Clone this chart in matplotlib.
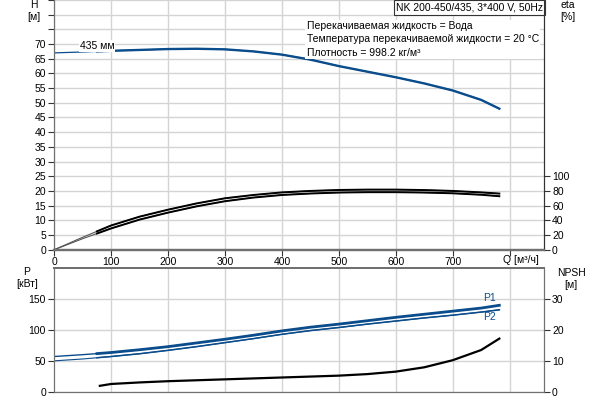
import numpy as np
import matplotlib.pyplot as plt
from matplotlib.transforms import blended_transform_factory

plt.rcParams['font.family'] = ['Liberation Sans', 'DejaVu Sans']
plt.rcParams['font.size'] = 7.5

# Q axis, m3/h
q = [0, 25, 50, 75, 100, 150, 200, 250, 300, 350, 400, 450, 500, 550, 600, 650, 700, 750, 782]

# head, m
head = [67.0, 67.15, 67.3, 67.5, 67.7, 68.0, 68.3, 68.4, 68.2, 67.5, 66.4, 64.7, 62.5,
        60.6, 58.7, 56.6, 54.2, 51.0, 48.0]

# efficiencies, %
eta1 = [0, 8.5, 17, 25, 33, 45, 54.5, 63, 70, 74.5, 78, 80, 81.3, 81.8, 81.8, 81.2, 80, 78, 76.4]
eta2 = [0, 7.5, 15, 22, 29, 41, 50.5, 59, 66, 71, 74.5, 76.5, 77.8, 78.3, 78.3, 77.8, 76.8, 74.8, 72.8]

# power, kW
p1 = [57, 58.5, 60, 61.7, 63.5, 68, 73, 79, 85, 91.5, 98.5, 104.5, 109.5, 115, 120.5, 125.5, 130.5, 135.5, 140]
p2 = [50, 51.5, 53, 55, 57, 61.5, 67, 73, 79.5, 86, 93, 99, 104, 109.5, 114.5, 119.5, 124, 129, 132.7]

# NPSH, m
q_npsh = [80, 100, 150, 200, 250, 300, 350, 400, 450, 500, 550, 600, 650, 700, 750, 782]
npsh = [1.9, 2.5, 3.0, 3.4, 3.7, 4.0, 4.3, 4.6, 4.9, 5.2, 5.7, 6.5, 7.9, 10.2, 13.5, 17.2]

q = np.array(q)
k = q >= 75  # operating range drawn thick

blue = '#0b4d8c'
grid_c = '#d4d4d4'
spine_c = '#707070'

fig = plt.figure(figsize=(6, 4), dpi=100)
ax = fig.add_axes([0.0905, 0.3758, 0.8157, 0.6242])
ax2 = ax.twinx()
bx = fig.add_axes([0.0905, 0.0208, 0.8157, 0.3085])
bx2 = bx.twinx()

xmax = 860

# ---- top: H and eta
ax.set_xlim(0, xmax)
ax.set_ylim(0, 85)
ax.set_xticks(range(0, 900, 100))
ax.set_xticklabels([str(v) for v in range(0, 800, 100)] + [''])
ax.set_yticks(range(0, 90, 5))
ax.set_yticklabels([str(v) for v in range(0, 75, 5)] + ['', '', ''])
ax.grid(True, color=grid_c, lw=1.0)
ax.set_axisbelow(True)

ax.plot(q, head, color=blue, lw=0.9)
ax.plot(q[k], np.array(head)[k], color=blue, lw=1.7)

ax2.set_ylim(0, 340)
ax2.set_yticks(range(0, 120, 20))
ax2.plot(q, eta1, color='#555555', lw=0.8)
ax2.plot(q, eta2, color='#555555', lw=0.8)
ax2.plot(q[k], np.array(eta1)[k], color='black', lw=1.4)
ax2.plot(q[k], np.array(eta2)[k], color='black', lw=1.4)

for a in (ax, ax2):
    a.tick_params(length=4, width=0.8, color='#333333', pad=2, labelsize=7.5)
    a.tick_params(axis='x', pad=1)
    a.spines['top'].set_visible(False)
    a.spines['left'].set_color(spine_c)
    a.spines['right'].set_color('#333333')
    a.spines['bottom'].set_color(spine_c)
    a.spines['bottom'].set_linewidth(1.6)

ax.text(75, 69.4, '435 мм', ha='center', va='center', fontsize=7.5,
        bbox=dict(facecolor='white', edgecolor='none', pad=0.5))

info = ('Перекачиваемая жидкость = Вода\n'
        'Температура перекачиваемой жидкости = 20 °C\n'
        'Плотность = 998.2 кг/м³')
ax.text(0.516, 0.916, info, transform=ax.transAxes, ha='left', va='top',
        fontsize=7.5, linespacing=1.42,
        bbox=dict(facecolor='white', edgecolor='none', pad=1))
ax.text(0.998, 0.99, 'NK 200-450/435, 3*400 V, 50Hz', transform=ax.transAxes,
        ha='right', va='top', fontsize=7.5,
        bbox=dict(facecolor='white', edgecolor='#333333', lw=0.8, pad=1.5))

tr = blended_transform_factory(ax.transData, ax.transAxes)
ax.text(788, -0.021, 'Q [м³/ч]', transform=tr, ha='left', va='top', fontsize=7.5)

fig.text(34 / 600, 1 - 11 / 400, 'H\n[м]', ha='center', va='center', fontsize=7.5, linespacing=1.3)
fig.text(568 / 600, 1 - 11 / 400, 'eta\n[%]', ha='center', va='center', fontsize=7.5, linespacing=1.3)

# ---- bottom: P and NPSH
bx.set_xlim(0, xmax)
bx.set_ylim(0, 200)
bx.set_xticks(range(100, 900, 100))
bx.set_xticklabels([])
bx.set_yticks([0, 50, 100, 150])
bx.grid(True, color=grid_c, lw=1.0)
bx.set_axisbelow(True)

bx.plot(q, p1, color=blue, lw=1.0)
bx.plot(q[k], np.array(p1)[k], color=blue, lw=2.0)
bx.plot(q, p2, color=blue, lw=0.8)
bx.plot(q[k], np.array(p2)[k], color=blue, lw=1.1)
bx.text(764, 152, 'P1', ha='center', va='center', color=blue, fontsize=7.5)
bx.text(764, 121, 'P2', ha='center', va='center', color=blue, fontsize=7.5)

bx2.set_ylim(0, 40)
bx2.set_yticks([0, 10, 20, 30])
bx2.plot(q_npsh, npsh, color='black', lw=1.6)

for a in (bx, bx2):
    a.tick_params(length=4, width=0.8, color='#333333', pad=2, labelsize=7.5)
    a.tick_params(axis='x', length=0)
    for s in ('top', 'left', 'right', 'bottom'):
        a.spines[s].set_color(spine_c)
    a.spines['top'].set_linewidth(1.4)

fig.text(27 / 600, 1 - 278 / 400, 'P\n[кВт]', ha='center', va='center', fontsize=7.5, linespacing=1.3)
fig.text(571 / 600, 1 - 279 / 400, 'NPSH\n[м]', ha='center', va='center', fontsize=7.5, linespacing=1.3)

fig.savefig('out.png', dpi=100)
